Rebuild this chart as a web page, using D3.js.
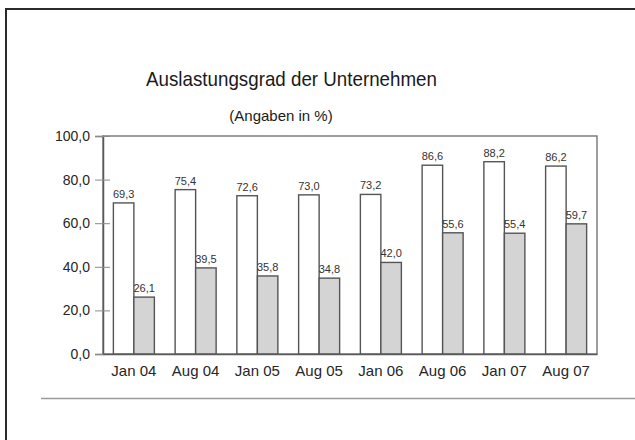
<!DOCTYPE html>
<html>
<head>
    <meta charset="utf-8">
    <title>Auslastungsgrad der Unternehmen</title>
    <script src="https://cdn.jsdelivr.net/npm/d3@7"></script>
    <style>
        body {
            margin: 0;
            padding: 0;
            background-color: white;
        }

        svg {
            display: block;
            font-family: "Liberation Sans", Arial, sans-serif;
        }

        .title {
            font-size: 21px;
            fill: #1a1a1a;
        }

        .subtitle {
            font-size: 15px;
            fill: #1a1a1a;
        }

        .tick text {
            font-size: 14px;
            fill: #262626;
        }

        .value-label {
            font-size: 11px;
            fill: #333;
        }
    </style>
</head>
<body>
    <div id="chart"></div>

    <script>
        // values
        const categories = ["Jan 04", "Aug 04", "Jan 05", "Aug 05", "Jan 06", "Aug 06", "Jan 07", "Aug 07"];
        const auslastung = [69.3, 75.4, 72.6, 73.0, 73.2, 86.6, 88.2, 86.2];
        const zweiteReihe = [26.1, 39.5, 35.8, 34.8, 42.0, 55.6, 55.4, 59.7];
        const yTicks = [0, 20, 40, 60, 80, 100];
        const seriesKeys = ["a", "b"];

        const width = 635, height = 440;
        const margin = { top: 136, right: 38, bottom: 86, left: 103 };
        const innerW = width - margin.left - margin.right;
        const innerH = height - margin.top - margin.bottom;

        const de = d3.formatLocale({ decimal: ",", thousands: ".", grouping: [3], currency: ["", " €"] });
        const fmt = de.format(".1f");

        const rows = categories.map((c, i) => ({ cat: c, a: auslastung[i], b: zweiteReihe[i] }));

        const svg = d3.select("#chart")
            .append("svg")
            .attr("width", width)
            .attr("height", height);

        // outer frame (only top and left edges are visible)
        svg.append("line")
            .attr("x1", 6).attr("y1", 9).attr("x2", width).attr("y2", 9)
            .style("stroke", "#2a2a2a").style("stroke-width", 2);
        svg.append("line")
            .attr("x1", 6).attr("y1", 8).attr("x2", 6).attr("y2", height)
            .style("stroke", "#2a2a2a").style("stroke-width", 2);

        // separator below the chart
        svg.append("line")
            .attr("x1", 41).attr("y1", 398.5).attr("x2", width).attr("y2", 398.5)
            .style("stroke", "#9a9a9a").style("stroke-width", 1.5);

        svg.append("text")
            .attr("class", "title")
            .attr("x", 291.5)
            .attr("y", 86)
            .attr("textLength", 291)
            .attr("lengthAdjust", "spacingAndGlyphs")
            .style("text-anchor", "middle")
            .text("Auslastungsgrad der Unternehmen");

        svg.append("text")
            .attr("class", "subtitle")
            .attr("x", 281)
            .attr("y", 121)
            .style("text-anchor", "middle")
            .text("(Angaben in %)");

        const g = svg.append("g")
            .attr("transform", `translate(${margin.left},${margin.top})`);

        const x0 = d3.scaleBand()
            .domain(categories)
            .range([0, innerW])
            .paddingInner(0.336)
            .paddingOuter(0.168);

        const x1 = d3.scaleBand()
            .domain(seriesKeys)
            .range([0, x0.bandwidth()]);

        const y = d3.scaleLinear()
            .domain([0, 100])
            .range([innerH, 0]);

        // plot frame (top and right)
        g.append("rect")
            .attr("x", 0).attr("y", 0)
            .attr("width", innerW).attr("height", innerH)
            .attr("fill", "none")
            .style("stroke", "#6a6a6a").style("stroke-width", 1.3);

        const groups = g.selectAll(".group")
            .data(rows)
            .enter()
            .append("g")
            .attr("class", "group")
            .attr("transform", d => `translate(${x0(d.cat)},0)`);

        groups.selectAll("rect")
            .data(d => seriesKeys.map(k => ({ key: k, value: d[k] })))
            .enter()
            .append("rect")
            .attr("x", d => x1(d.key))
            .attr("y", d => y(d.value))
            .attr("width", x1.bandwidth())
            .attr("height", d => innerH - y(d.value))
            .attr("fill", d => d.key === "a" ? "#ffffff" : "#d4d4d4")
            .style("stroke", "#555")
            .style("stroke-width", 1.4);

        groups.selectAll(".value-label")
            .data(d => seriesKeys.map(k => ({ key: k, value: d[k] })))
            .enter()
            .append("text")
            .attr("class", "value-label")
            .attr("x", d => x1(d.key) + x1.bandwidth() / 2)
            .attr("y", d => y(d.value) - 5)
            .style("text-anchor", "middle")
            .text(d => fmt(d.value));

        const yAxis = g.append("g")
            .attr("class", "y-axis")
            .call(d3.axisLeft(y).tickValues(yTicks).tickFormat(fmt).tickSize(8).tickPadding(5));

        // ticks cross the axis line
        yAxis.selectAll(".tick line").attr("x1", 7).style("stroke", "#8a8a8a");

        const xAxis = g.append("g")
            .attr("class", "x-axis")
            .attr("transform", `translate(0,${innerH})`)
            .call(d3.axisBottom(x0).tickSize(0).tickPadding(11));

        g.selectAll(".y-axis path, .x-axis path")
            .style("stroke", "#5a5a5a").style("stroke-width", 1.5);
        g.selectAll(".tick text").attr("font-family", null);
        xAxis.selectAll("text").style("font-size", "15px");
    </script>
</body>
</html>
